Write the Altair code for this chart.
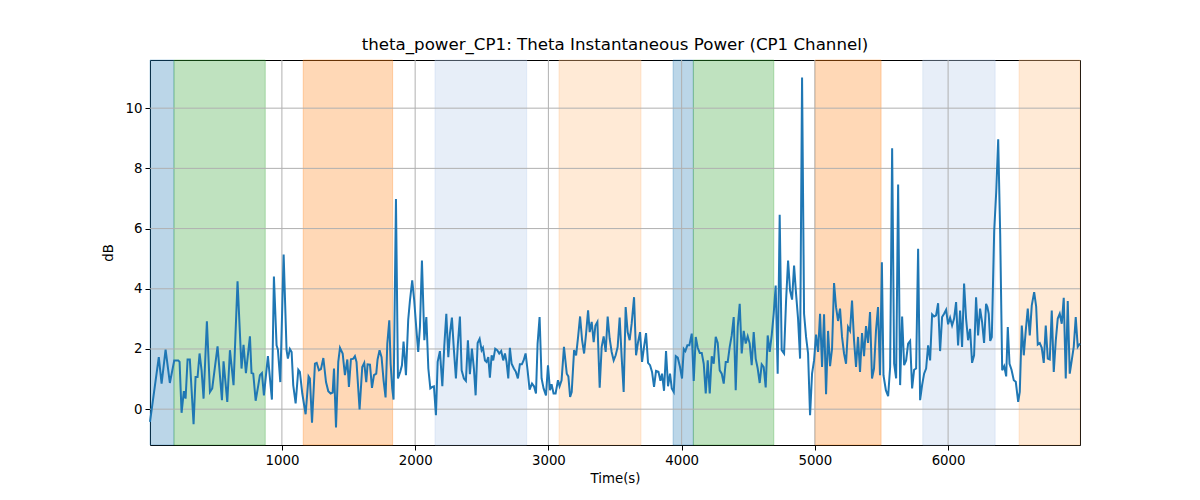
import altair as alt
import pandas as pd

# ---- data ----
times = [10, 76, 97, 127, 159, 192, 222, 232, 247, 264, 277, 292, 309, 337, 352, 367, 382, 397, 412, 437,
         460, 477, 517, 550, 562, 590, 610, 637, 667, 697, 712, 730,
         760, 772, 785, 803, 823, 835, 850, 865, 895, 925, 940, 960, 970, 988, 1013, 1035, 1045, 1060, 1073,
         1085, 1103, 1123, 1135, 1153, 1178, 1200, 1210, 1226, 1248, 1261, 1278, 1293, 1311, 1331, 1348,
         1366, 1381, 1391, 1406, 1423, 1436, 1456, 1473, 1491, 1503, 1518, 1536,
         1548, 1560, 1583, 1603, 1618, 1633, 1643, 1661, 1676, 1691, 1708, 1718, 1733, 1748, 1763, 1778,
         1791, 1806, 1816, 1828, 1838, 1856, 1871, 1888, 1901, 1913, 1931, 1948, 1961, 1978, 1993, 2008,
         2023, 2036, 2051, 2069, 2084, 2099, 2114, 2129, 2141, 2156, 2169, 2186, 2204, 2219, 2234, 2249,
         2261, 2276, 2291, 2306, 2321,
         2336, 2349, 2366, 2381, 2396, 2411, 2426, 2441, 2454, 2469, 2484, 2499, 2509, 2524, 2536, 2549,
         2561, 2574, 2586, 2601, 2616, 2631, 2646, 2661, 2674, 2686, 2699, 2711, 2724, 2741, 2756, 2771,
         2786, 2801, 2814, 2829, 2844, 2859, 2877, 2892, 2907, 2919, 2934, 2949, 2964, 2982, 2997, 3012,
         3024, 3039, 3054, 3072, 3084, 3099, 3117,
         3138, 3150, 3163, 3175, 3193, 3208, 3223, 3238, 3253, 3268, 3283, 3298, 3310, 3325, 3340, 3353,
         3368, 3385, 3400, 3415, 3430, 3445, 3460, 3475, 3490, 3505, 3520, 3535, 3550, 3565, 3580, 3595,
         3610, 3625, 3643, 3658, 3673, 3688, 3703, 3718, 3733, 3748, 3763, 3778, 3793, 3808, 3826, 3841,
         3853, 3868, 3883, 3898,
         3913, 3926, 3941, 3956, 3971, 3988, 4003, 4016, 4028, 4043, 4058, 4076, 4091, 4106, 4121, 4136,
         4151, 4166, 4181, 4196, 4211, 4226, 4241, 4256, 4271, 4286, 4301, 4316, 4331, 4346, 4361, 4376,
         4391, 4406, 4421, 4436, 4451, 4466, 4481, 4496, 4511, 4526, 4541, 4556, 4571, 4586, 4601, 4616,
         4631, 4646, 4661, 4676, 4691,
         4706, 4721, 4736, 4751, 4769, 4784, 4799, 4814, 4829, 4844, 4859, 4874, 4889, 4904, 4919, 4934,
         4949, 4964, 4979, 4994, 5009, 5024, 5039, 5054, 5069, 5084, 5099, 5114, 5129, 5144, 5159, 5174,
         5189, 5204, 5219, 5234, 5249, 5264, 5279, 5294, 5309, 5324, 5339, 5354, 5369, 5384, 5399, 5414,
         5429, 5444, 5459, 5474, 5489,
         5503, 5515, 5533, 5550, 5565, 5580, 5595, 5610, 5625, 5640, 5655, 5670, 5685, 5700, 5715, 5730,
         5745, 5760, 5775, 5790, 5805, 5820, 5835, 5850, 5865, 5880, 5895, 5910, 5925, 5940, 5955, 5970,
         5985, 6000, 6015, 6030, 6045, 6060, 6075, 6090, 6105, 6120, 6135, 6150, 6165, 6180, 6195, 6210,
         6225, 6240, 6255, 6270,
         6285, 6295, 6305, 6316, 6328, 6346, 6361, 6376, 6391, 6406, 6421, 6436, 6448, 6461, 6476, 6493,
         6508, 6526, 6538, 6553, 6568, 6583, 6598, 6613, 6628, 6646, 6661, 6673, 6688, 6703, 6718, 6733,
         6748, 6763, 6778, 6793, 6808, 6823, 6838, 6853, 6868, 6883, 6898, 6913, 6928, 6943, 6958, 6973,
         6990]

power_db = [-0.42, 1.73, 0.85, 1.98, 0.87, 1.62, 1.62, 1.57, -0.12, 0.6, 0.35, 1.65, 1.65, -0.5, 1.07, 1.07, 1.85, 1.3, 0.35, 2.92,
            0.57, 0.69, 2.09, 0.3, 1.59, 0.24, 1.96, 0.8, 4.25, 1.35, 2.14, 1.2,
            2.42, 1.2, 1.18, 0.28, 0.8, 1.13, 1.2, 0.46, 1.76, 0.32, 4.41, 2.12, 1.98, 0.9, 5.14, 1.96, 1.68, 2.0, 1.9,
            0.8, 0.19, 1.31, 1.24, 0.52, -0.17, 1.09, 1.02, -0.45, 1.51, 1.54, 1.29, 1.33, 1.7, 0.9, 0.6,
            0.52, 0.55, 1.35, -0.61, 1.57, 2.04, 1.85, 1.13, 1.65, 0.74, 1.66, 1.68,
            1.76, 1.57, -0.01, 1.4, 1.54, 0.9, 1.49, 1.48, 0.71, 1.13, 1.18, 1.65, 1.96, 1.73, 0.96, 0.39,
            2.18, 2.95, 1.51, 0.69, 0.32, 6.98, 1.02, 1.24, 1.46, 2.25, 1.13, 2.97, 3.61, 4.28, 3.61, 2.73,
            1.9, 2.73, 4.94, 2.29, 3.06, 1.35, 0.69, 0.74, 0.76, -0.2, 1.57, 1.93, 0.76, 2.12, 3.17, 1.73,
            2.51, 3.04, 1.96, 1.02, 2.18,
            3.08, 1.29, 1.02, 0.94, 2.29, 1.16, 2.01, 1.35, 0.46, 2.2, 2.34, 1.96, 2.04, 1.62, 1.57, 1.73,
            1.05, 1.79, 1.62, 2.01, 1.96, 1.85, 1.93, 1.62, 1.85, 1.57, 1.02, 2.04, 1.51, 1.35, 1.24, 1.02,
            1.49, 1.49, 1.62, 1.85, 1.29, 0.65, 0.85, 0.76, 0.52, 2.18, 3.06, 1.02, 0.69, 0.46, 1.46, 0.63,
            0.83, 0.52, 0.52, 0.96, 0.76, 0.96, 2.07,
            1.18, 1.09, 0.41, 0.57, 1.96, 1.79, 2.4, 3.08, 2.29, 1.85, 2.51, 3.28, 2.56, 2.9, 2.23, 2.78,
            2.9, 0.71, 2.07, 2.42, 1.9, 3.08, 2.34, 1.9, 1.62, 1.79, 2.07, 3.04, 1.73, 0.57, 3.39, 2.56,
            2.29, 2.84, 3.72, 1.79, 2.23, 2.56, 1.57, 2.07, 2.53, 1.54, 1.46, 1.24, 0.74, 1.27, 1.24, 0.94,
            1.18, 0.61, 1.93, 0.76,
            1.18, 0.69, 0.57, 1.76, 1.71, 1.4, 1.02, 2.0, 1.93, 2.12, 2.12, 2.51, 0.94, 2.4, 2.04, 1.87,
            1.87, 1.51, 0.52, 1.62, 0.52, 1.76, 1.51, 2.4, 2.2, 1.29, 1.18, 0.85, 1.57, 1.57, 2.07, 2.45,
            3.06, 0.63, 2.73, 3.5, 1.85, 2.6, 2.18, 2.42, 2.18, 1.46, 2.56, 1.68, 1.35, 0.87, 1.49, 1.4,
            0.72, 2.45, 1.9, 2.45, 3.17,
            4.11, 1.18, 6.46, 1.96, 1.85, 3.61, 4.94, 3.94, 3.64, 4.77, 3.83, 3.0, 1.68, 11.02, 3.17, 2.4,
            1.85, -0.2, 1.18, 1.62, 2.48, 1.9, 3.17, 1.4, 3.15, 0.5, 2.6, 1.43, 2.01, 4.19, 3.39, 2.93,
            3.34, 2.4, 1.85, 1.51, 2.73, 2.6, 3.61, 2.29, 1.4, 2.4, 1.24, 2.53, 1.76, 2.76, 2.2, 3.23,
            1.02, 1.35, 2.62, 3.39, 1.13,
            4.88, 1.13, 0.63, 0.43, 1.4, 8.67, 1.51, 1.02, 7.46, 0.8, 3.08, 1.46, 1.62, 2.18, 2.27, 0.69,
            1.31, 1.35, 5.33, 0.3, 0.8, 1.18, 1.35, 2.12, 1.62, 3.15, 3.08, 3.12, 3.52, 1.93, 3.06, 3.17,
            3.3, 2.82, 3.04, 2.78, 3.01, 3.56, 2.12, 3.28, 2.07, 4.17, 3.01, 2.29, 2.67, 1.54, 1.79, 3.72,
            2.45, 3.34, 2.9, 2.2,
            3.5, 3.39, 3.17, 2.27, 2.4, 5.93, 7.2, 8.97, 5.82, 1.29, 1.43, 1.09, 2.73, 1.51, 1.31, 0.96,
            0.91, 0.24, 0.57, 2.78, 1.79, 2.62, 3.34, 2.45, 3.45, 3.89, 3.41, 2.15, 2.2, 2.04, 1.54, 2.78,
            1.68, 1.65, 3.28, 1.24, 2.27, 3.01, 3.17, 2.84, 3.7, 1.02, 3.59, 1.18, 1.62, 2.07, 3.06, 2.07,
            2.18]

span_start = [10, 190, 1160, 2149, 3080, 3936, 4088, 5002, 5810, 6533]
span_end = [190, 875, 1831, 2837, 3695, 4088, 4692, 5497, 6353, 6990]
span_kind = ["A", "B", "C", "D", "E", "A", "B", "C", "D", "E"]
kind_colors = ["#1f77b4", "#2ca02c", "#ff7f0e", "#aec7e8", "#ffbb78"]
kind_names = ["A", "B", "C", "D", "E"]

x_ticks = [1000, 2000, 3000, 4000, 5000, 6000]
y_ticks = [0, 2, 4, 6, 8, 10]

X_DOMAIN = [10, 6990]
Y_DOMAIN = [-1.19, 11.6]
W, H = 930, 385

line_df = pd.DataFrame({"t": times, "v": power_db})
span_df = pd.DataFrame({"start": span_start, "end": span_end, "kind": span_kind})
xg_df = pd.DataFrame({"t": x_ticks})
yg_df = pd.DataFrame({"v": y_ticks})

xscale = alt.Scale(domain=X_DOMAIN, nice=False, zero=False)
yscale = alt.Scale(domain=Y_DOMAIN, nice=False, zero=False)
xaxis = alt.Axis(values=x_ticks, format="d", grid=False, domain=False,
                 tickSize=5, tickColor="black", labelPadding=3, titlePadding=5)
yaxis = alt.Axis(values=y_ticks, format="d", grid=False, domain=False,
                 tickSize=5, tickColor="black", labelPadding=3, titlePadding=10)

spans = alt.Chart(span_df).mark_rect(fillOpacity=0.3, strokeOpacity=0.3, strokeWidth=1).encode(
    x=alt.X("start:Q", scale=xscale, axis=xaxis, title="Time(s)"),
    x2="end:Q",
    y=alt.value(0),
    y2=alt.value(H),
    fill=alt.Fill("kind:N", scale=alt.Scale(domain=kind_names, range=kind_colors), legend=None),
    stroke=alt.Stroke("kind:N", scale=alt.Scale(domain=kind_names, range=kind_colors), legend=None),
)

xgrid = alt.Chart(xg_df).mark_rule(color="#b0b0b0", strokeWidth=1).encode(
    x=alt.X("t:Q", scale=xscale, axis=xaxis, title="Time(s)"),
)
ygrid = alt.Chart(yg_df).mark_rule(color="#b0b0b0", strokeWidth=1).encode(
    y=alt.Y("v:Q", scale=yscale, axis=yaxis, title="dB"),
)

line = alt.Chart(line_df).mark_line(color="#1f77b4", strokeWidth=2).encode(
    x=alt.X("t:Q", scale=xscale, title="Time(s)", axis=xaxis),
    y=alt.Y("v:Q", scale=yscale, title="dB", axis=yaxis),
)

chart = alt.layer(spans, xgrid, ygrid, line).properties(
    width=W, height=H,
    title=alt.TitleParams("theta_power_CP1: Theta Instantaneous Power (CP1 Channel)",
                          fontSize=16.67, fontWeight="normal", color="black", offset=6, anchor="middle"),
    autosize=alt.AutoSizeParams(type="none"),
    padding={"left": 142, "top": 52, "right": 112, "bottom": 47},
).configure(
    font="DejaVu Sans",
).configure_view(
    stroke="black", strokeWidth=1,
).configure_axis(
    labelFontSize=13.33, titleFontSize=13.33, labelColor="black", titleColor="black",
    titleFontWeight="normal", labelFont="DejaVu Sans", titleFont="DejaVu Sans",
)

chart.save("out.html", embed_options={"renderer": "svg", "actions": False})
